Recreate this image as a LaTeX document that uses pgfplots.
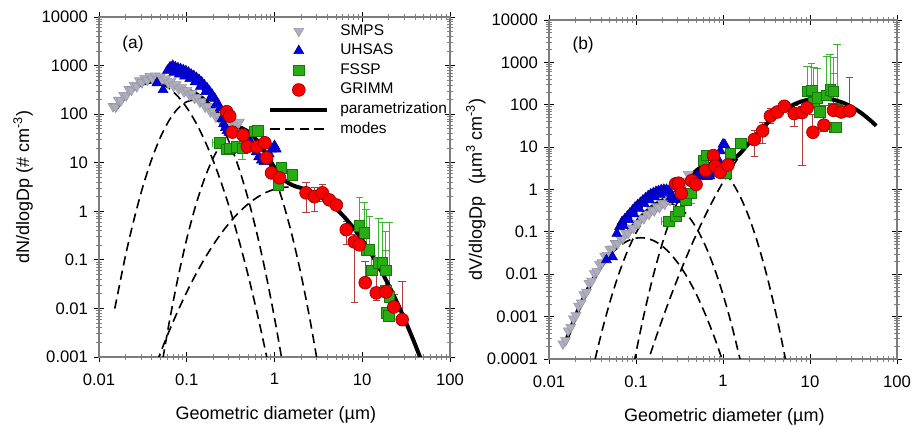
\documentclass[border=0pt]{standalone}
\usepackage{fontspec}
\setmainfont{Liberation Sans}
\usepackage{pgfplots}
\usepackage{pgfplotstable}
\pgfplotsset{compat=1.18}

\definecolor{smpsfill}{RGB}{174,174,188}
\definecolor{smpsline}{RGB}{150,150,168}
\definecolor{uhsasfill}{RGB}{0,0,230}
\definecolor{uhsasline}{RGB}{0,0,150}
\definecolor{fsspfill}{RGB}{40,172,20}
\definecolor{fsspline}{RGB}{20,120,10}
\definecolor{fsspbar}{RGB}{60,180,50}
\definecolor{grimmfill}{RGB}{250,0,0}
\definecolor{grimmline}{RGB}{150,0,0}
\definecolor{grimmbar}{RGB}{175,60,60}
\definecolor{boxgray}{RGB}{125,125,125}

% all columns are log10 values: L = log10(Dp/um), A = dN/dlogDp, B = dV/dlogDp
\pgfplotstableread{
L A B
-1.84 2.16 -3.641
-1.81 2.15 -3.561
-1.78 2.29 -3.331
-1.75 2.28 -3.251
-1.72 2.39 -3.051
-1.69 2.38 -2.971
-1.66 2.51 -2.751
-1.63 2.50 -2.671
-1.60 2.60 -2.481
-1.57 2.57 -2.421
-1.54 2.69 -2.211
-1.51 2.65 -2.161
-1.48 2.74 -1.981
-1.45 2.70 -1.931
-1.42 2.78 -1.761
-1.39 2.73 -1.721
-1.36 2.79 -1.571
-1.33 2.72 -1.551
-1.30 2.77 -1.411
-1.27 2.69 -1.401
-1.24 2.73 -1.271
-1.21 2.64 -1.271
-1.18 2.67 -1.151
-1.15 2.58 -1.151
-1.12 2.61 -1.031
-1.09 2.52 -1.031
-1.06 2.55 -0.911
-1.03 2.46 -0.911
-1.00 2.49 -0.791
-0.97 2.40 -0.791
-0.94 2.43 -0.671
-0.91 2.33 -0.681
-0.88 2.35 -0.571
-0.85 2.25 -0.581
-0.82 2.26 -0.481
-0.79 2.15 -0.501
-0.76 2.16 -0.401
-0.73 2.05 -0.421
-0.70 2.06 -0.321
-0.67 1.95 -0.341
-0.64 1.96 -0.241
-0.61 1.86 -0.251
-0.58 1.89 -0.131
-0.55 1.80 -0.131
-0.52 1.84 -0.001
-0.49 1.76 0.009
-0.46 1.81 0.149
-0.43 1.77 0.199
-0.40 1.84 0.359
}\smps

\pgfplotstableread{
L A B
-1.34 2.64 -1.661
-1.27 2.50 -1.591
-1.22 2.90 -1.041
-1.19 2.97 -0.881
-1.16 3.00 -0.761
-1.13 2.97 -0.701
-1.10 2.95 -0.631
-1.07 2.93 -0.561
-1.04 2.91 -0.491
-1.01 2.89 -0.421
-0.98 2.86 -0.361
-0.95 2.82 -0.311
-0.92 2.79 -0.251
-0.89 2.75 -0.201
-0.86 2.71 -0.151
-0.83 2.66 -0.111
-0.80 2.60 -0.081
-0.77 2.54 -0.051
-0.74 2.47 -0.031
-0.71 2.40 -0.011
-0.68 2.32 -0.001
-0.65 2.23 -0.001
-0.62 2.12 -0.021
-0.60 1.90 -0.181
-0.58 1.80 -0.221
-0.56 1.72 -0.241
-0.54 1.66 -0.241
-0.52 1.62 -0.221
-1.145 2.86 -0.856
-1.085 2.82 -0.716
-1.025 2.78 -0.576
-0.965 2.73 -0.446
-0.905 2.66 -0.336
-0.845 2.57 -0.246
-0.785 2.46 -0.176
-0.725 2.34 -0.116
-0.665 2.20 -0.076
-0.30 1.50 0.319
-0.27 1.42 0.329
-0.24 1.33 0.329
-0.21 1.22 0.309
-0.18 1.12 0.299
-0.15 1.05 0.319
-0.12 1.02 0.379
-0.09 1.08 0.529
-0.06 1.18 0.719
-0.03 1.28 0.909
0.00 1.35 1.069
0.02 1.28 1.059
}\uhsas

\pgfplotstableread{
L A B yp ym xp xm
-0.625 1.41 -0.746 0 0 0.07 0.08
-0.545 1.28 -0.636 0 0 0.05 0.05
-0.51 1.30 -0.511 0 0 0 0
-0.43 1.33 -0.241 0 0 0.06 0
-0.37 1.30 -0.091 0 0.24 0 0
-0.227 1.65 0.688 0 0 0 0
-0.19 1.66 0.809 0 0 0 0
0.04 0.55 0.389 0 0 0 0
0.08 0.90 0.859 0 0 0.06 0
0.205 0.75 1.084 0 0 0.06 0
0.966 -0.30 2.317 0.58 0 0 0
1.02 -0.44 2.339 0.63 0 0 0
1.045 -0.79 2.064 0.82 0 0 0
1.08 -0.79 2.169 0.69 0 0 0
1.11 -1.21 1.839 0.30 0 0 0
1.19 -1.06 2.229 0.92 0 0 0
1.23 -1.06 2.349 0.84 0 0 0
1.27 -1.21 2.319 0.79 0 0 0
1.27 -1.62 1.909 0.82 0 0 0
1.31 -1.76 1.889 1.54 0 0 0
1.28 -2.09 1.469 0 0 0 0.06
1.30 -2.15 1.469 0 0 0.05 0
}\fssp

\pgfplotstableread{
L A B ep em
-0.545 2.05 0.134 0 0
-0.51 1.96 0.149 0 0
-0.48 1.63 -0.091 0 0
-0.36 1.57 0.209 0 0
-0.31 1.33 0.119 0 0
-0.20 1.33 0.449 0 0
-0.11 1.41 0.799 0 0
-0.09 1.10 0.549 0 0
-0.034 0.79 0.407 0 0
0.057 0.69 0.580 0 0
0.36 0.38 1.179 0.22 0.41
0.455 0.30 1.384 0.20 0.30
0.545 0.38 1.734 0.17 0.18
0.625 0.235 1.829 0 0
0.705 0.13 1.964 0 0
0.818 -0.38 1.793 0.18 0.31
0.909 -0.63 1.816 0.15 1.25
0.966 -0.69 1.927 0.12 0.10
1.034 -1.47 1.351 0.43 0.10
1.16 -1.68 1.519 0.47 0.15
1.27 -1.66 1.869 0.52 0.10
1.36 -1.97 1.829 0.25 0.10
1.455 -2.23 1.854 0.78 0.10
}\grimm

\pgfplotstableread{
L A B
-1.82 2.080 -3.661
-1.7 2.364 -3.017
-1.6 2.529 -2.552
-1.5 2.630 -2.151
-1.4 2.671 -1.810
-1.3 2.660 -1.521
-1.2 2.615 -1.266
-1.1 2.559 -1.022
-1.0 2.501 -0.780
-0.9 2.422 -0.559
-0.8 2.297 -0.384
-0.7 2.120 -0.261
-0.6 1.930 -0.151
-0.5 1.802 0.021
-0.4 1.733 0.252
-0.3 1.639 0.458
-0.2 1.463 0.582
-0.1 1.203 0.622
0.0 0.902 0.621
0.1 0.661 0.680
0.2 0.541 0.860
0.3 0.481 1.100
0.4 0.417 1.336
0.5 0.328 1.547
0.6 0.208 1.727
0.7 0.056 1.875
0.8 -0.127 1.992
0.9 -0.342 2.077
1.0 -0.588 2.131
1.1 -0.867 2.152
1.2 -1.176 2.143
1.3 -1.518 2.101
1.4 -1.890 2.029
1.5 -2.295 1.924
1.6 -2.731 1.788
1.7 -3.199 1.620
1.76 -3.494 1.505
}\total

\pgfplotstableread{
L A B
-1.82 2.080 -3.661
-1.7 2.364 -3.017
-1.6 2.528 -2.553
-1.5 2.627 -2.154
-1.4 2.660 -1.821
-1.3 2.627 -1.554
-1.2 2.528 -1.353
-1.1 2.364 -1.217
-1.0 2.134 -1.147
-0.9 1.838 -1.144
-0.8 1.476 -1.205
-0.7 1.048 -1.333
-0.6 0.554 -1.527
-0.5 -0.005 -1.786
-0.4 -0.630 -2.111
-0.3 -1.320 -2.501
-0.2 -2.080 -2.961
-0.1 -2.900 -3.481
0.0 -3.790 -4.071
}\modeone

\pgfplotstableread{
L A B
-1.82 -2.003 -7.744
-1.7 -0.930 -6.311
-1.6 -0.160 -5.241
-1.5 0.510 -4.271
-1.4 1.069 -3.412
-1.3 1.525 -2.656
-1.2 1.875 -2.007
-1.1 2.118 -1.463
-1.0 2.256 -1.025
-0.9 2.288 -0.693
-0.8 2.214 -0.467
-0.7 2.034 -0.347
-0.6 1.747 -0.334
-0.5 1.355 -0.426
-0.4 0.857 -0.624
-0.3 0.253 -0.928
-0.2 -0.458 -1.339
-0.1 -1.274 -1.855
0.0 -2.196 -2.477
0.1 -3.220 -3.201
0.2 -4.358 -4.039
}\modetwo

\pgfplotstableread{
L A B
-1.3 -3.330 -7.511
-1.2 -2.290 -6.171
-1.1 -1.370 -4.951
-1.0 -0.570 -3.851
-0.9 0.107 -2.874
-0.8 0.661 -2.020
-0.7 1.094 -1.287
-0.6 1.404 -0.677
-0.5 1.593 -0.188
-0.4 1.660 0.179
-0.3 1.605 0.424
-0.2 1.428 0.547
-0.1 1.130 0.549
0.0 0.710 0.429
0.1 0.168 0.187
0.2 -0.496 -0.177
0.3 -1.280 -0.661
0.4 -2.190 -1.271
0.5 -3.220 -2.001
0.6 -4.370 -2.851
0.7 -5.640 -3.821
0.8 -7.040 -4.921
}\modethree

\pgfplotstableread{
L A B
-1.4 -3.395 -7.876
-1.3 -2.914 -7.095
-1.2 -2.465 -6.346
-1.1 -2.048 -5.629
-1.0 -1.663 -4.944
-0.9 -1.309 -4.290
-0.8 -0.987 -3.668
-0.7 -0.696 -3.077
-0.6 -0.437 -2.518
-0.5 -0.209 -1.990
-0.4 -0.013 -1.494
-0.3 0.151 -1.030
-0.2 0.284 -0.597
-0.1 0.385 -0.196
0.0 0.454 0.173
0.1 0.492 0.511
0.2 0.499 0.818
0.3 0.473 1.092
0.4 0.416 1.335
0.5 0.328 1.547
0.6 0.208 1.727
0.7 0.056 1.875
0.8 -0.127 1.992
0.9 -0.342 2.077
1.0 -0.588 2.131
1.1 -0.867 2.152
1.2 -1.176 2.143
1.3 -1.518 2.101
1.4 -1.890 2.029
1.5 -2.295 1.924
1.6 -2.731 1.788
1.7 -3.199 1.620
1.76 -3.494 1.505
}\modefour

\pgfplotsset{
  psd/.style={
    scale only axis, xmin=-2, xmax=2,
    xtick={-2,-1,0,1,2}, xticklabels={0.01,0.1,1,10,100},
    minor xtick={-1.699,-1.523,-1.398,-1.301,-1.222,-1.155,-1.097,-1.046,
      -0.699,-0.523,-0.398,-0.301,-0.222,-0.155,-0.097,-0.046,
      0.301,0.477,0.602,0.699,0.778,0.845,0.903,0.954,
      1.301,1.477,1.602,1.699,1.778,1.845,1.903,1.954},
    tick align=center, major tick length=7.5pt, minor tick length=4pt,
    every major tick/.append style={black, line width=0.7pt},
    every minor tick/.append style={black!50, line width=0.5pt},
    axis line style={boxgray, line width=0.9pt},
    tick label style={font=\fontsize{12.5}{14}\selectfont},
    xticklabel style={yshift=-5pt},
    yticklabel style={xshift=-1pt},
  },
  xlab/.style={every axis x label/.style={at={(axis description cs:0.504,-0.171)},
    anchor=center, font=\fontsize{13.5}{16}\selectfont}},
  ylab/.style={every axis y label/.style={at={(axis description cs:#1,0.5)},
    rotate=90, anchor=center, font=\fontsize{13.5}{16}\selectfont}},
  lg/.style={legend image code/.code={%
    \draw[mark repeat=2,mark phase=2,##1] plot coordinates {(0pt,0pt) (21.4pt,0pt) (42.8pt,0pt)};
    \path (49pt,0pt);}},
  errs/.style={only marks, mark=none, forget plot,
    error bars/y dir=both, error bars/y explicit,
    error bars/error bar style={draw=#1, line width=0.7pt},
    error bars/error mark options={rotate=90, draw=#1, mark size=2.8pt, line width=0.7pt}},
  smpsmark/.style={only marks, mark=triangle*, mark size=4.3pt,
    mark options={rotate=180, fill=smpsfill, draw=smpsline, line width=0.4pt}},
  uhsasmark/.style={only marks, mark=triangle*, mark size=4.3pt,
    mark options={fill=uhsasfill, draw=uhsasline, line width=0.4pt}},
  fsspmark/.style={only marks, mark=square*, mark size=3.9pt,
    mark options={fill=fsspfill, draw=fsspline, line width=0.4pt}},
  grimmmark/.style={only marks, mark=*, mark size=4.8pt,
    mark options={fill=grimmfill, draw=grimmline, line width=0.5pt}},
  fit/.style={black, line width=3pt, smooth},
  mode/.style={black, line width=1.2pt, dash pattern=on 7pt off 4pt, smooth},
}

\begin{document}
\begin{tikzpicture}
\useasboundingbox (0,0) rectangle (685.5pt,318.75pt);

% ---------------- (a) number distribution
\begin{axis}[psd, xlab, ylab=-0.2165, at={(74.25pt,51pt)}, anchor=south west,
  width=263.25pt, height=255pt, ymin=-3, ymax=4,
  ytick={-3,-2,-1,0,1,2,3,4},
  yticklabels={0.001,0.01,0.1,1,10,100,1000,10000},
  minor ytick={-2.699,-2.523,-2.398,-2.301,-2.222,-2.155,-2.097,-2.046,
    -1.699,-1.523,-1.398,-1.301,-1.222,-1.155,-1.097,-1.046,
    -0.699,-0.523,-0.398,-0.301,-0.222,-0.155,-0.097,-0.046,
    0.301,0.477,0.602,0.699,0.778,0.845,0.903,0.954,
    1.301,1.477,1.602,1.699,1.778,1.845,1.903,1.954,
    2.301,2.477,2.602,2.699,2.778,2.845,2.903,2.954,
    3.301,3.477,3.602,3.699,3.778,3.845,3.903,3.954},
  xlabel={Geometric diameter (µm)},
  ylabel={dN/dlogDp (\# cm\textsuperscript{-3})},
  legend cell align=left,
  legend style={at={(axis description cs:0.4815,0.988)}, anchor=north west,
    draw=none, fill=none, inner sep=0pt, row sep=0pt,
    font=\fontsize{11.6}{13}\selectfont,
    nodes={inner sep=2pt, text height=8.3pt, text depth=2.4pt}},
]
\addplot[errs=fsspbar, error bars/x dir=both, error bars/x explicit]
  table[x=L, y=A, y error plus=yp, y error minus=ym, x error plus=xp, x error minus=xm] {\fssp};
\addplot[errs=grimmbar] table[x=L, y=A, y error plus=ep, y error minus=em] {\grimm};

\addplot[smpsmark, lg] table[x=L, y=A] {\smps};
\addlegendentry{SMPS}
\addplot[uhsasmark, lg] table[x=L, y=A] {\uhsas};
\addlegendentry{UHSAS}
\addplot[fsspmark, lg] table[x=L, y=A] {\fssp};
\addlegendentry{FSSP}
\addplot[grimmmark, lg] table[x=L, y=A] {\grimm};
\addlegendentry{GRIMM}

\addplot[fit, lg] table[x=L, y=A] {\total};
\addlegendentry{parametrization}
\addplot[mode, lg] table[x=L, y=A] {\modeone};
\addlegendentry{modes}
\addplot[mode, forget plot] table[x=L, y=A] {\modetwo};
\addplot[mode, forget plot] table[x=L, y=A] {\modethree};
\addplot[mode, forget plot] table[x=L, y=A] {\modefour};

\node[font=\fontsize{13}{15}\selectfont] at (axis description cs:0.097,0.921) {(a)};
\end{axis}

% ---------------- (b) volume distribution
\begin{axis}[psd, xlab, ylab=-0.21, at={(411.75pt,49.5pt)}, anchor=south west,
  width=261pt, height=254.25pt, ymin=-4, ymax=4,
  ytick={-4,-3,-2,-1,0,1,2,3,4},
  yticklabels={0.0001,0.001,0.01,0.1,1,10,100,1000,10000},
  minor ytick={-3.699,-3.523,-3.398,-3.301,-3.222,-3.155,-3.097,-3.046,
    -2.699,-2.523,-2.398,-2.301,-2.222,-2.155,-2.097,-2.046,
    -1.699,-1.523,-1.398,-1.301,-1.222,-1.155,-1.097,-1.046,
    -0.699,-0.523,-0.398,-0.301,-0.222,-0.155,-0.097,-0.046,
    0.301,0.477,0.602,0.699,0.778,0.845,0.903,0.954,
    1.301,1.477,1.602,1.699,1.778,1.845,1.903,1.954,
    2.301,2.477,2.602,2.699,2.778,2.845,2.903,2.954,
    3.301,3.477,3.602,3.699,3.778,3.845,3.903,3.954},
  xlabel={Geometric diameter (µm)},
  ylabel={dV/dlogDp\hspace{0.4em} (µm\textsuperscript{3} cm\textsuperscript{-3})},
]
\addplot[errs=fsspbar, error bars/x dir=both, error bars/x explicit]
  table[x=L, y=B, y error plus=yp, y error minus=ym, x error plus=xp, x error minus=xm] {\fssp};
\addplot[errs=grimmbar] table[x=L, y=B, y error plus=ep, y error minus=em] {\grimm};

\addplot[smpsmark] table[x=L, y=B] {\smps};
\addplot[uhsasmark] table[x=L, y=B] {\uhsas};
\addplot[fsspmark] table[x=L, y=B] {\fssp};
\addplot[grimmmark] table[x=L, y=B] {\grimm};

\addplot[fit] table[x=L, y=B] {\total};
\addplot[mode] table[x=L, y=B] {\modeone};
\addplot[mode] table[x=L, y=B] {\modetwo};
\addplot[mode] table[x=L, y=B] {\modethree};
\addplot[mode] table[x=L, y=B] {\modefour};

\node[font=\fontsize{13}{15}\selectfont] at (axis description cs:0.098,0.926) {(b)};
\end{axis}
\end{tikzpicture}
\end{document}
